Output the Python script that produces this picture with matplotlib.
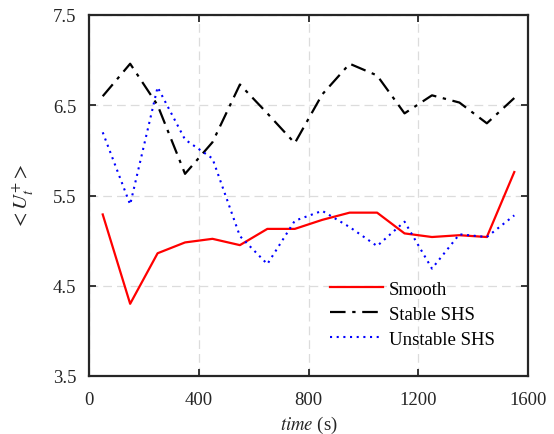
import matplotlib
matplotlib.use("Agg")
import matplotlib.pyplot as plt

time_s = [50, 150, 250, 350, 450, 550, 650, 750, 850, 950, 1050, 1150, 1250, 1350, 1450, 1550]
smooth = [5.29, 4.30, 4.86, 4.98, 5.02, 4.95, 5.13, 5.13, 5.23, 5.31, 5.31, 5.08, 5.04, 5.06, 5.04, 5.76]
stable_shs = [6.60, 6.96, 6.50, 5.74, 6.09, 6.73, 6.41, 6.08, 6.62, 6.96, 6.83, 6.41, 6.61, 6.53, 6.30, 6.58]
unstable_shs = [6.20, 5.40, 6.70, 6.12, 5.91, 5.05, 4.74, 5.22, 5.33, 5.15, 4.94, 5.21, 4.69, 5.07, 5.04, 5.28]

x_ticks = [0, 400, 800, 1200, 1600]
y_ticks = [3.5, 4.5, 5.5, 6.5, 7.5]

plt.rcParams["font.family"] = ["Liberation Serif", "DejaVu Serif"]
plt.rcParams["mathtext.fontset"] = "stix"
plt.rcParams["font.size"] = 13.5

fig = plt.figure(figsize=(5.54, 4.35), dpi=100)
ax = fig.add_axes([89 / 554, 1 - 377 / 435, 439 / 554, 361 / 435])

ax.plot(time_s, smooth, "-", color="#ff0000", lw=1.6, label="Smooth")
ax.plot(time_s, stable_shs, color="black", lw=1.6, dashes=(7, 3, 1.5, 3), label="Stable SHS")
ax.plot(time_s, unstable_shs, color="#0000ff", lw=1.5, dashes=(1, 2.2), label="Unstable SHS")

ax.set_xlim(0, 1600)
ax.set_ylim(3.5, 7.5)
ax.set_xticks(x_ticks)
ax.set_yticks(y_ticks)
ax.set_xticklabels([str(v) for v in x_ticks])
ax.set_yticklabels([f"{v:.1f}" for v in y_ticks])
ax.grid(True, color="#dcdcdc", ls=(0, (7, 4)), lw=0.9)
ax.set_axisbelow(True)
ax.tick_params(direction="in", top=True, right=True, length=5, width=1.3, colors="#262626",
               labelcolor="#262626")
ax.tick_params(axis="x", pad=11)
ax.tick_params(axis="y", pad=9)
for sp in ax.spines.values():
    sp.set_linewidth(1.6)
    sp.set_color("#262626")

ax.set_xlabel(r"$\mathit{time}$ (s)", color="#262626", labelpad=4)
ax.set_ylabel(r"$<U_t^{+}>$", color="#262626", labelpad=13, fontsize=15)

ax.legend(loc="upper left", bbox_to_anchor=(0.52, 0.30), frameon=False,
          handlelength=2.8, handletextpad=0.3, labelspacing=0.42, borderpad=0.2)

fig.savefig("out.png", dpi=100)
